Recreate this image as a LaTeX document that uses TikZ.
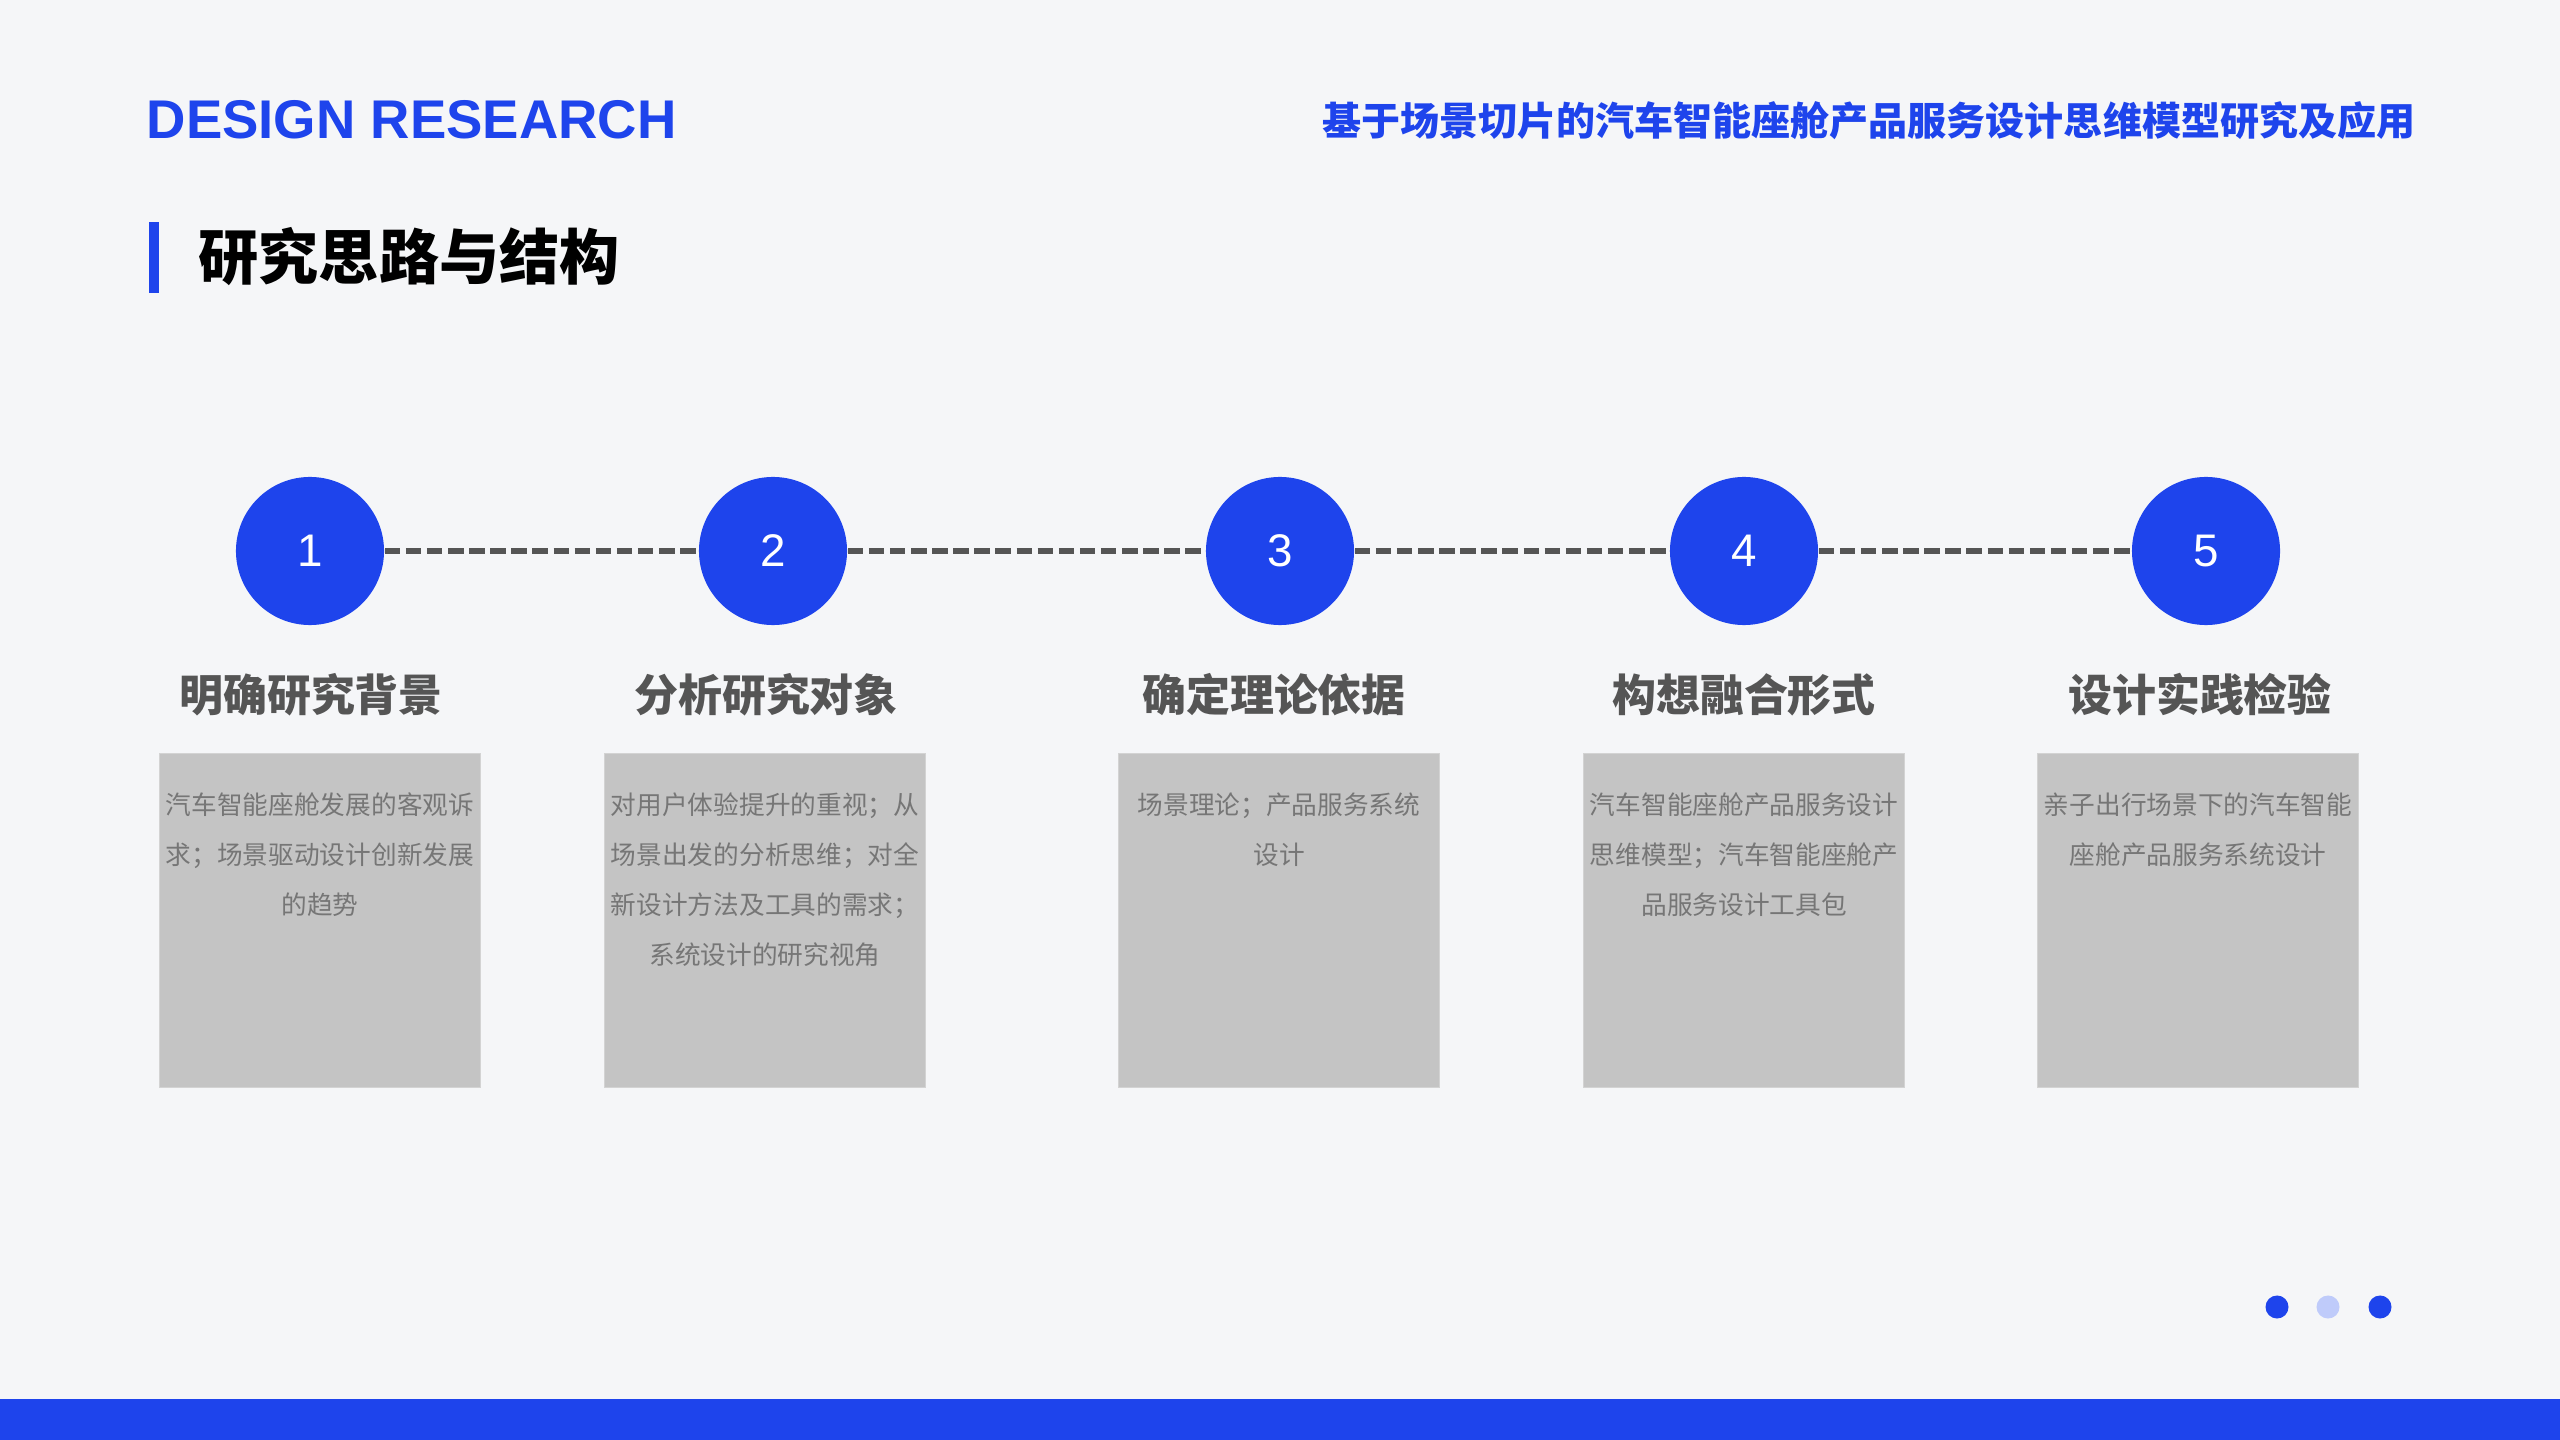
\documentclass[tikz,border=0pt]{standalone}
\usepackage{fontspec}
\setmainfont{Liberation Sans}
\newfontfamily\cjk{Noto Sans CJK SC}
\usetikzlibrary{positioning}
\definecolor{pagebg}{HTML}{F5F6F8}
\definecolor{mainblue}{HTML}{1E44EC}
\definecolor{paleblue}{HTML}{BFCBFA}
\definecolor{cardgray}{HTML}{C4C4C4}
\definecolor{cardink}{HTML}{767676}
\definecolor{darkink}{HTML}{555555}
\providecommand{\topic}{基于场景切片的汽车智能座舱产品服务设计思维模型研究及应用}

\begin{document}
\begin{tikzpicture}[x=0.01cm, y=-0.01cm, every node/.style={inner sep=0pt},
  stepdot/.style={circle, fill=mainblue, minimum size=1.48cm, text=white, font=\fontsize{13}{13}\selectfont},
  steplabel/.style={text=darkink, font=\cjk\bfseries\fontsize{12.5}{12.5}\selectfont},
  card/.style={fill=cardgray, draw=cardgray!75!white, line width=0.3pt, minimum width=3.21cm, minimum height=3.34cm, anchor=north},
  cardtext/.style={align=center, text=cardink, font=\cjk\fontsize{7.3}{14.2}\selectfont},
  linkdash/.style={draw=darkink, line width=1.5pt, dash pattern=on 4.4pt off 1.6pt}]
  % page
  \fill[pagebg] (0,0) rectangle (2560,1440);
  \useasboundingbox (0,0) rectangle (2560,1440);
  \fill[mainblue] (0,1399) rectangle (2560,1440);
  % header
  \node[anchor=base west, text=mainblue, font=\bfseries\fontsize{15.5}{15.5}\selectfont] (brand) at (146,139) {DESIGN RESEARCH};
  \node[anchor=east, text=mainblue, font=\cjk\bfseries\fontsize{11.1}{11.1}\selectfont] (topic) at (2416,121) {\topic};
  \fill[mainblue] (149,222) rectangle (159,293);
  \node[anchor=west, font=\cjk\bfseries\fontsize{17.1}{17.1}\selectfont] (heading) at (198,257) {研究思路与结构};
  % steps
  \foreach \i/\cx/\lx/\bx/\lab in {1/310/311/320/明确研究背景, 2/773/766/765/分析研究对象,
      3/1280/1274/1279/确定理论依据, 4/1744/1744/1744/构想融合形式, 5/2206/2200/2198/设计实践检验} {
    \node[stepdot] (c\i) at (\cx,551) {\i};
    \node[steplabel] (l\i) at (\lx,695) {\lab};
    \node[card] (b\i) at (\bx,753) {};
  }
  \foreach \i/\j in {1/2, 2/3, 3/4, 4/5}
    \draw[linkdash] (c\i) -- (c\j);
  % card texts
  \foreach \i/\txt in {1/{汽车智能座舱发展的客观诉\\求；场景驱动设计创新发展\\的趋势},
      2/{对用户体验提升的重视；从\\场景出发的分析思维；对全\\新设计方法及工具的需求；\\系统设计的研究视角},
      3/{场景理论；产品服务系统\\设计},
      4/{汽车智能座舱产品服务设计\\思维模型；汽车智能座舱产\\品服务设计工具包},
      5/{亲子出行场景下的汽车智能\\座舱产品服务系统设计}}
    \node[cardtext, below=0.39cm of b\i.north] (t\i) {\txt};
  % page dots
  \foreach \k/\x/\c in {1/2277/mainblue, 2/2328/paleblue, 3/2380/mainblue}
    \node[circle, fill=\c, minimum size=0.23cm] (d\k) at (\x,1307) {};
\end{tikzpicture}
\end{document}
